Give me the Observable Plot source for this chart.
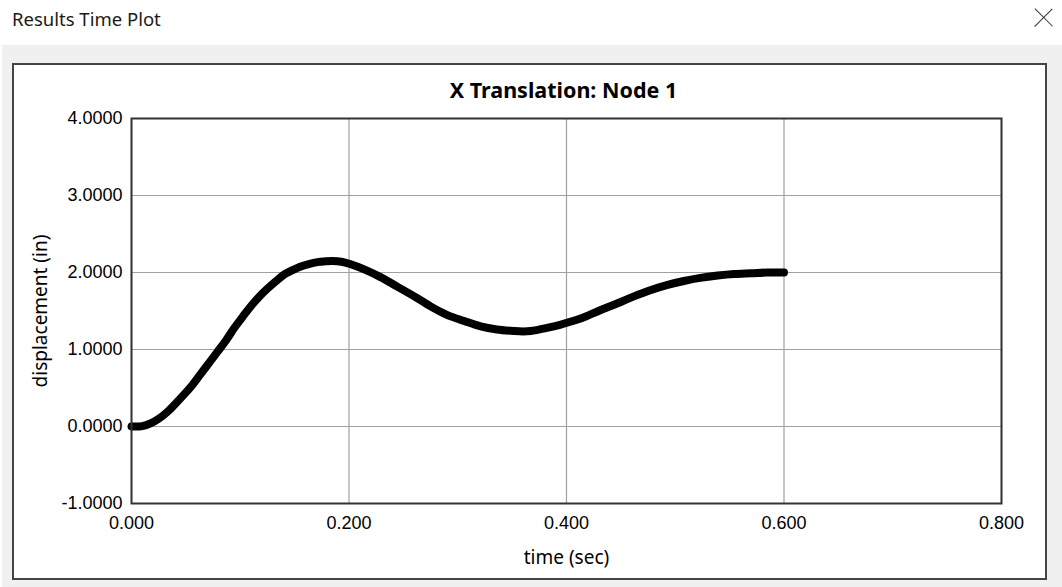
<!DOCTYPE html>
<html>
<head>
<meta charset="utf-8">
<script src="https://cdn.jsdelivr.net/npm/d3@7"></script>
<script src="https://cdn.jsdelivr.net/npm/@observablehq/plot@0.6"></script>
<style>
  html, body { margin: 0; padding: 0; background: #fff; width: 1062px; height: 587px; overflow: hidden; position: relative; }
  #wtitle { position: absolute; left: 12px; top: 10px; font: 18.5px/1 "Noto Sans", sans-serif; color: #1a1a1a; white-space: nowrap; }
  #close { position: absolute; left: 1035px; top: 9px; width: 18px; height: 18px; }
  #close::before, #close::after { content: ""; position: absolute; left: -3.7px; top: 8.3px; width: 25.4px; height: 1.4px; background: #333; }
  #close::before { transform: rotate(45deg); }
  #close::after { transform: rotate(-45deg); }
  #band { position: absolute; left: 2px; top: 45px; width: 1060px; height: 542px; background: #f0f0f0; }
  #panel { position: absolute; left: 12px; top: 63px; width: 1031px; height: 513px; background: #fff; border: 2px solid #444; }
  #ctitle { position: absolute; left: 0; width: 1127px; top: 79px; text-align: center; font: bold 21.5px/1 "Noto Sans", sans-serif; color: #000; white-space: nowrap; }
  #chart { position: absolute; left: 0; top: 0; }
  #chart g[aria-label="x-axis label"], #chart g[aria-label="y-axis label"] { font-family: "Noto Sans", sans-serif; font-size: 19px; }
</style>
</head>
<body>
<div id="wtitle">Results Time Plot</div>
<div id="close"></div>
<div id="band"></div>
<div id="panel"></div>
<div id="ctitle">X Translation: Node 1</div>
<div id="chart"></div>
<script>
const chartTitle = "X Translation: Node 1";
const xLabel = "time (sec)";
const yLabel = "displacement (in)";
const xTicks = [0, 0.2, 0.4, 0.6, 0.8];
const yTicks = [-1, 0, 1, 2, 3, 4];
const times = [0, 0.01, 0.0175, 0.025, 0.033, 0.04, 0.048, 0.056, 0.063, 0.071, 0.079, 0.087, 0.094, 0.102, 0.109, 0.117, 0.125, 0.133, 0.140, 0.148, 0.155, 0.163, 0.171, 0.178, 0.185, 0.193, 0.201, 0.214, 0.229, 0.244, 0.260, 0.275, 0.290, 0.306, 0.321, 0.336, 0.352, 0.360, 0.367, 0.382, 0.394, 0.401, 0.416, 0.431, 0.447, 0.462, 0.477, 0.493, 0.508, 0.523, 0.539, 0.554, 0.570, 0.585, 0.600];
const disp = [0, 0.005, 0.04, 0.10, 0.19, 0.29, 0.41, 0.54, 0.67, 0.82, 0.97, 1.12, 1.27, 1.42, 1.55, 1.68, 1.79, 1.89, 1.97, 2.03, 2.075, 2.11, 2.135, 2.145, 2.15, 2.14, 2.11, 2.04, 1.94, 1.82, 1.69, 1.56, 1.45, 1.37, 1.30, 1.26, 1.24, 1.235, 1.24, 1.28, 1.32, 1.35, 1.42, 1.51, 1.60, 1.69, 1.77, 1.84, 1.89, 1.93, 1.96, 1.98, 1.99, 2.0, 2.0];

const data = times.map((t, i) => ({t, d: disp[i]}));
document.getElementById("ctitle").textContent = chartTitle;

const chart = Plot.plot({
  width: 1062,
  height: 587,
  marginLeft: 131,
  marginRight: 61,
  marginTop: 118,
  marginBottom: 84,
  style: {background: "transparent", fontFamily: "'Liberation Sans', Arial, sans-serif", fontSize: "18px", color: "#000"},
  x: {domain: [0, 0.8]},
  y: {domain: [-1, 4]},
  marks: [
    Plot.gridX(xTicks, {stroke: "#a0a0a0", strokeOpacity: 1, strokeWidth: 1.2}),
    Plot.gridY(yTicks, {stroke: "#a0a0a0", strokeOpacity: 1, strokeWidth: 1.2}),
    Plot.axisX({ticks: xTicks, tickFormat: d => d.toFixed(3), tickSize: 0, tickPadding: 13, label: xLabel, labelAnchor: "center", labelOffset: 60, labelArrow: "none"}),
    Plot.axisY({ticks: yTicks, tickFormat: d => d.toFixed(4), tickSize: 0, tickPadding: 9, label: yLabel, labelAnchor: "center", labelOffset: 98, labelArrow: "none"}),
    Plot.line(data, {x: "t", y: "d", stroke: "#000", strokeWidth: 8, curve: "catmull-rom", strokeLinecap: "round", strokeLinejoin: "round"}),
    Plot.frame({stroke: "#333", strokeWidth: 2})
  ]
});
document.getElementById("chart").appendChild(chart);
</script>
</body>
</html>
